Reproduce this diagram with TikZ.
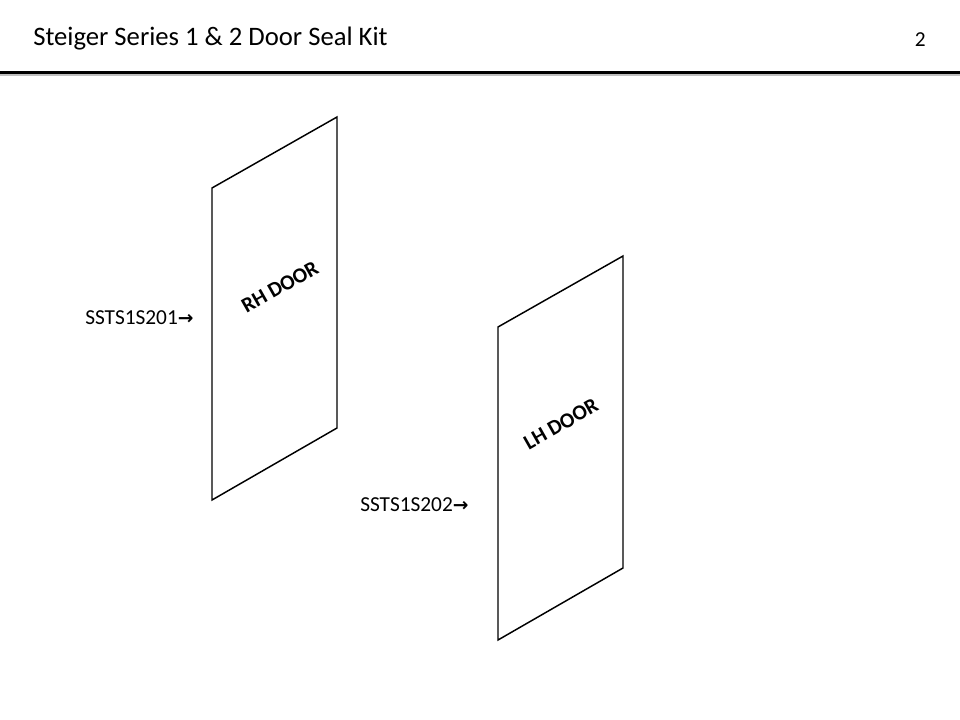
\documentclass[tikz,border=0pt]{standalone}
\usepackage{fontspec}
\setmainfont{Carlito}
\newfontfamily\dejavu{DejaVu Sans}
\begin{document}
\begin{tikzpicture}[x=0.75pt,y=-0.75pt,
  door/.style={draw=black,line width=1.1pt,line join=miter},
  lab/.style={font=\fontsize{16}{18}\selectfont,anchor=west,inner sep=0pt},
  doorlab/.style={font=\bfseries\fontsize{16}{18}\selectfont,rotate=29.6,inner sep=0pt}]
\useasboundingbox (0,0) rectangle (960,720);
\fill[white] (0,0) rectangle (960,720);
\node[anchor=west,inner sep=0pt,font=\fontsize{20}{24}\selectfont] (title) at (33,39) {Steiger Series 1 \& 2 Door Seal Kit};
\node[anchor=east,inner sep=0pt,font=\fontsize{16}{18}\selectfont] (num) at (926,40) {2};
\draw[gray!50,line width=2pt] (0,75) -- (960,75);
\draw[black,line width=2.5pt] (0,72.5) -- (960,72.5);
\draw[door] (212,188) -- (337,117) -- (337,428) -- (212,500) -- cycle;
\draw[door] (498,327) -- (623,256) -- (623,568) -- (498,640) -- cycle;
\node[doorlab] (rh) at (280,287) {RH DOOR};
\node[doorlab] (lh) at (561,424) {LH DOOR};
\node[lab] (s1) at (85,318) {SSTS1S201{\dejavu\bfseries\fontsize{14}{16}\selectfont →}};
\node[lab] (s2) at (360,505) {SSTS1S202{\dejavu\bfseries\fontsize{14}{16}\selectfont →}};
\end{tikzpicture}
\end{document}
